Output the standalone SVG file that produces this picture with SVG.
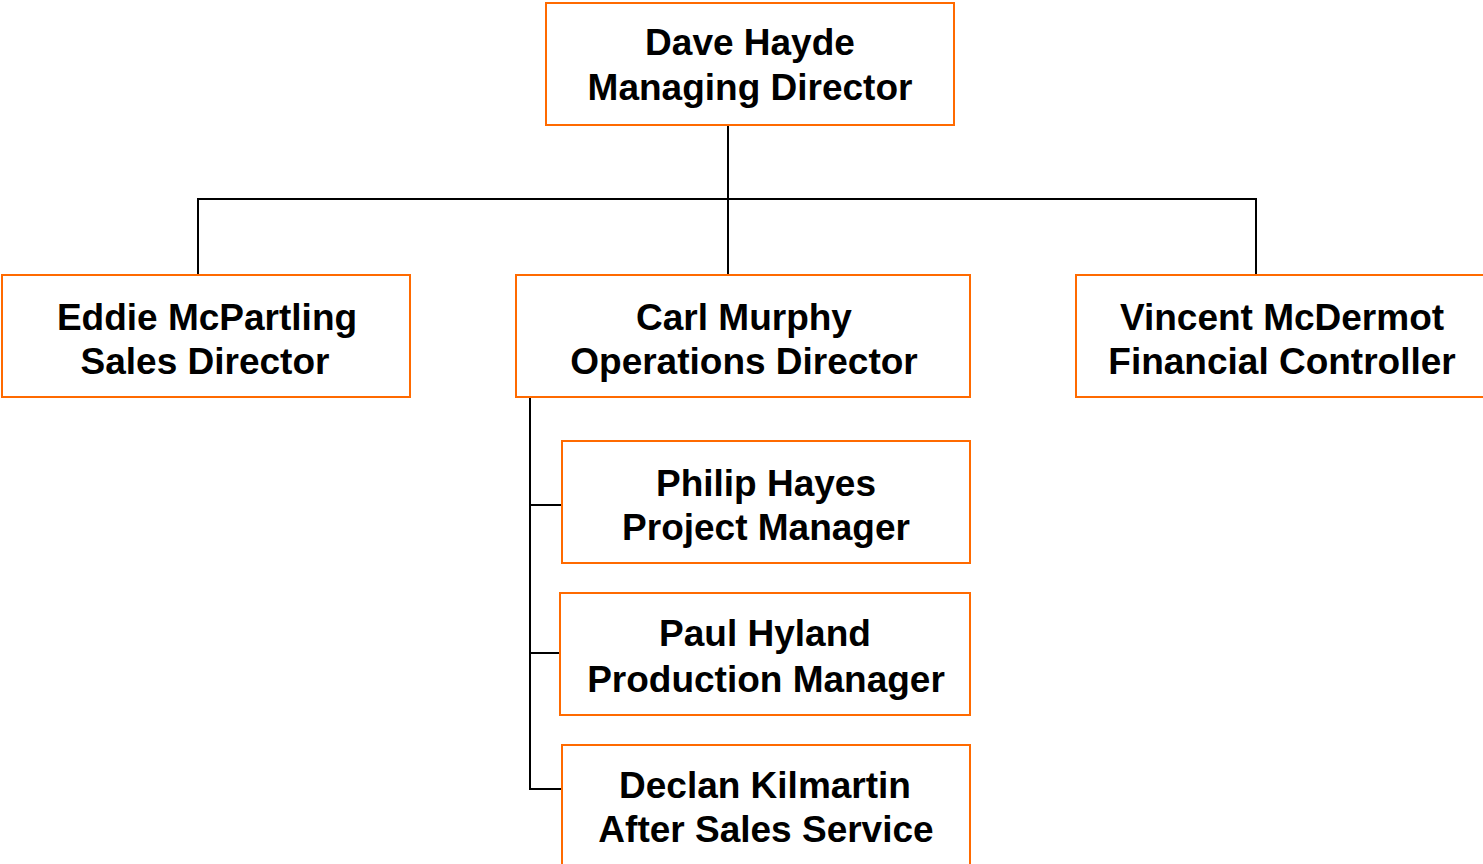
<svg xmlns="http://www.w3.org/2000/svg" width="1483" height="864" viewBox="0 0 1483 864">
<style>
.box{fill:#fff;stroke:#ff6a00;stroke-width:2}
.t{font-family:"Liberation Sans",Arial,sans-serif;font-weight:bold;font-size:37px;fill:#000;text-anchor:middle}
.c{fill:none;stroke:#000;stroke-width:2}
</style>
<rect width="1483" height="864" fill="#fff"/>
<g id="connectors">
<path class="c" d="M728 125V199M198 275V199H1256V275M728 199V275"/>
<path class="c" d="M530 397V789H562M530 505H562M530 653H562"/>
</g>
<g id="n-dave"><rect class="box" x="546" y="3" width="408" height="122"/><text class="t" x="750" y="55">Dave Hayde</text><text class="t" x="750" y="100">Managing Director</text></g>
<g id="n-eddie"><rect class="box" x="2" y="275" width="408" height="122"/><text class="t" x="207" y="330">Eddie McPartling</text><text class="t" x="205" y="374">Sales Director</text></g>
<g id="n-carl"><rect class="box" x="516" y="275" width="454" height="122"/><text class="t" x="744" y="330">Carl Murphy</text><text class="t" x="744" y="374">Operations Director</text></g>
<g id="n-vincent"><rect class="box" x="1076" y="275" width="412" height="122"/><text class="t" x="1282" y="330">Vincent McDermot</text><text class="t" x="1282" y="374">Financial Controller</text></g>
<g id="n-philip"><rect class="box" x="562" y="441" width="408" height="122"/><text class="t" x="766" y="496">Philip Hayes</text><text class="t" x="766" y="540">Project Manager</text></g>
<g id="n-paul"><rect class="box" x="560" y="593" width="410" height="122"/><text class="t" x="765" y="646">Paul Hyland</text><text class="t" x="766" y="692">Production Manager</text></g>
<g id="n-declan"><rect class="box" x="562" y="745" width="408" height="130"/><text class="t" x="765" y="798">Declan Kilmartin</text><text class="t" x="766" y="842">After Sales Service</text></g>
</svg>
